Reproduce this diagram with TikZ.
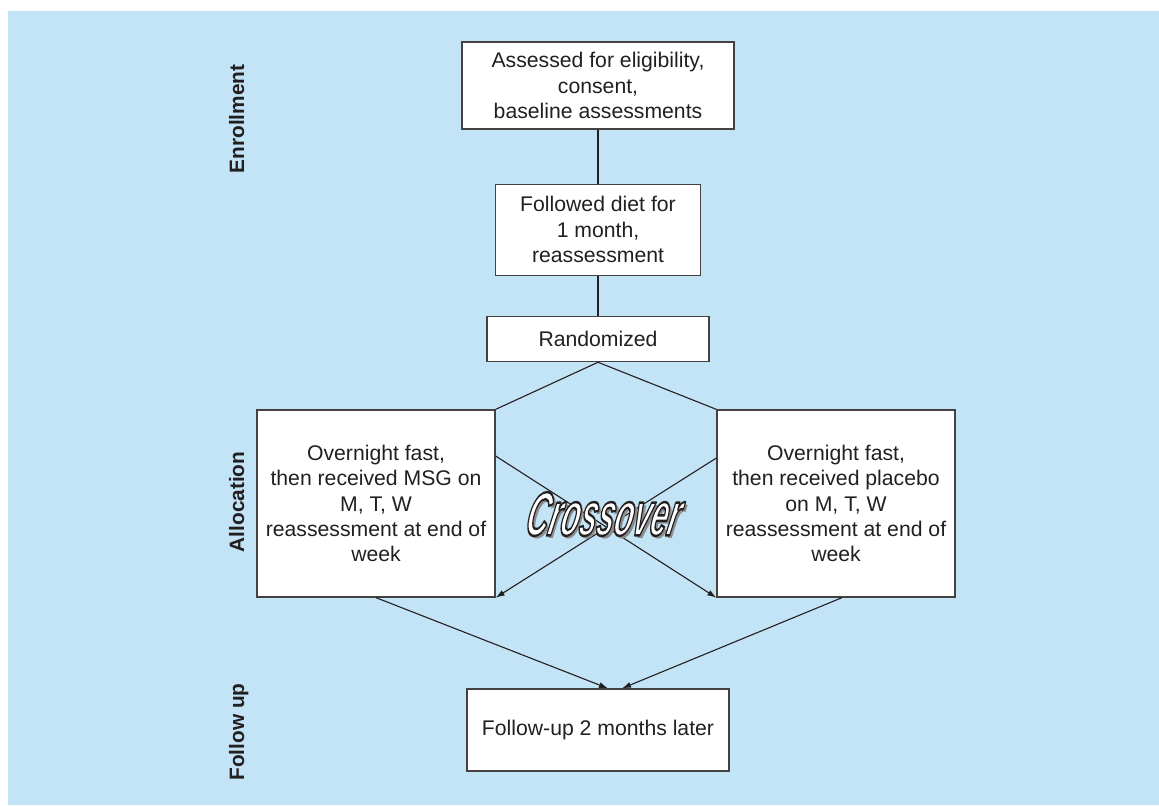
\documentclass[tikz,border=0pt]{standalone}
\usepackage{fontspec}
\setmainfont{Liberation Sans}
\usepackage{tikz}
\usetikzlibrary{arrows.meta, positioning}
\definecolor{bgblue}{RGB}{194,228,246}
\definecolor{ink}{RGB}{35,31,32}
\newcommand{\boxfont}{\fontsize{10.6}{12.7}\selectfont}
\newcommand{\phasefont}{\fontsize{10.4}{12}\selectfont\bfseries}
\newcommand{\xoverfont}{\fontsize{31}{31}\selectfont\bfseries\itshape}
\newcommand{\outlined}[1]{\special{pdf:literal direct 0.14 0.12 0.13 RG 1.2 w 1 j 2 Tr}#1\special{pdf:literal direct 0 Tr}}
\tikzstyle{stage} = [rectangle, draw=ink!85, line width=0.65pt, fill=white, align=center, text=ink, font=\boxfont]
\tikzstyle{phase} = [rotate=90, anchor=base, text=ink, font=\phasefont]
\tikzstyle{link} = [draw=ink, line width=0.55pt]
\tikzstyle{arrow} = [link, -{Latex[length=4.5pt,width=3pt]}]
\tikzstyle{xover} = [inner sep=0pt, font=\xoverfont]

\begin{document}
\begin{tikzpicture}[x=0.5pt, y=-0.5pt, node distance=27pt]
    \fill[bgblue] (8,11) rectangle (1159,805);
    \useasboundingbox (0,0) rectangle (1159,805);

    % phases
    \node (enrol) [phase] at (244,119) {Enrollment};
    \node (alloc) [phase] at (244,502) {Allocation};
    \node (follow) [phase] at (244,732) {Follow up};

    % boxes
    \node (assess) [stage, minimum width=136pt, minimum height=43.5pt] at (598,85.5) {Assessed for eligibility,\\consent,\\baseline assessments};
    \node (diet) [stage, minimum width=102.5pt, minimum height=45.5pt, below=of assess] {Followed diet for\\1 month,\\reassessment};
    \node (random) [stage, minimum width=111pt, minimum height=22.5pt, below=20pt of diet] {Randomized};
    \node (msg) [stage, minimum width=119pt, minimum height=93.5pt] at (376,503.5) {Overnight fast,\\then received MSG on\\M, T, W\\reassessment at end of\\week};
    \node (placebo) [stage, minimum width=119pt, minimum height=93.5pt] at (836,503.5) {Overnight fast,\\then received placebo\\on M, T, W\\reassessment at end of\\week};
    \node (later) [stage, minimum width=131pt, minimum height=41pt] at (598,730) {Follow-up 2 months later};

    \draw [link] (assess) -- (diet);
    \draw [link] (diet) -- (random);
    \draw [link] (random.south) -- (msg.north east);
    \draw [link] (random.south) -- (placebo.north west);
    \draw [arrow] ([yshift=23.75pt]msg.east) -- (placebo.south west);
    \draw [arrow] ([yshift=22.75pt]placebo.west) -- (msg.south east);
    \draw [arrow] (msg.south) -- ([xshift=5pt]later.north);
    \draw [arrow] ([xshift=3pt]placebo.south) -- ([xshift=12pt]later.north);

    % crossover lettering
    \begin{scope}[shift={(605,514)}, xslant=0.22, transform shape]
        \node (xshadow) [xover, text=black!45, xshift=1.8pt, yshift=-1.8pt] at (0,0) {\scalebox{0.5}[1]{Crossover}};
        \node (xover) [xover, text=white] at (0,0) {\scalebox{0.5}[1]{\outlined{Crossover}}};
    \end{scope}
\end{tikzpicture}
\end{document}
